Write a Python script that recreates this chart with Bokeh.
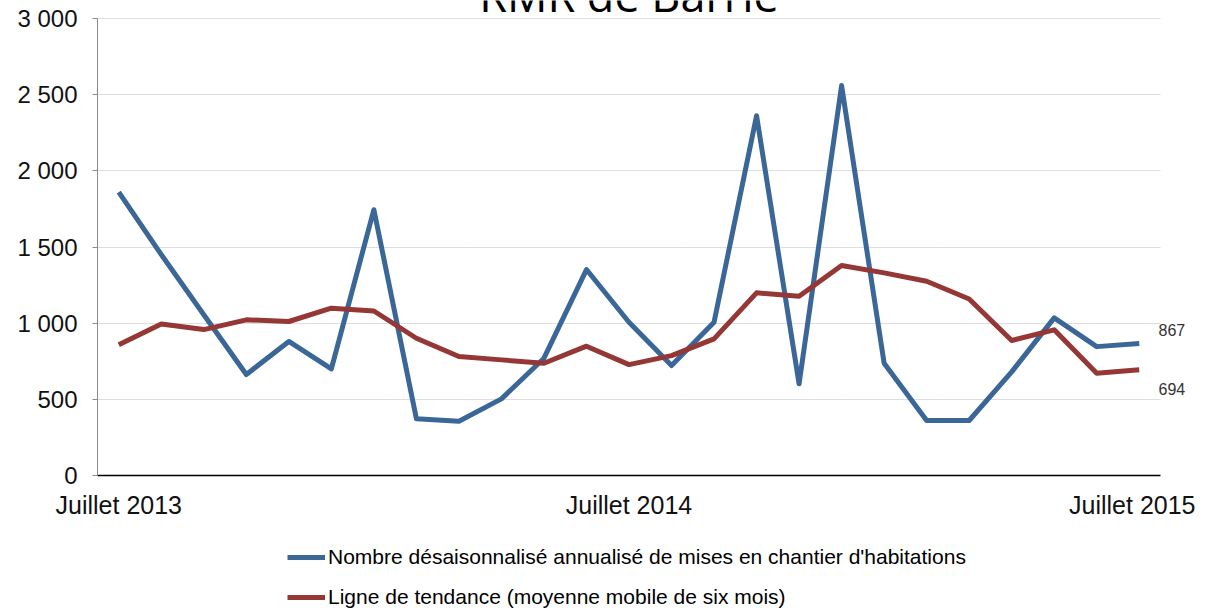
from bokeh.plotting import figure
from bokeh.layouts import column
from bokeh.models import Range1d, FixedTicker, Legend, LegendItem, Label, LinearAxis
from bokeh.models import ColumnDataSource
from bokeh.embed import file_html
from bokeh.resources import INLINE

months = ["Juillet 2013", "Août 2013", "Septembre 2013", "Octobre 2013", "Novembre 2013",
          "Décembre 2013", "Janvier 2014", "Février 2014", "Mars 2014", "Avril 2014",
          "Mai 2014", "Juin 2014", "Juillet 2014", "Août 2014", "Septembre 2014",
          "Octobre 2014", "Novembre 2014", "Décembre 2014", "Janvier 2015", "Février 2015",
          "Mars 2015", "Avril 2015", "Mai 2015", "Juin 2015", "Juillet 2015"]
starts = [1860, 1450, 1055, 663, 880, 700, 1745, 372, 356, 503, 770, 1352, 1006,
          722, 1006, 2362, 602, 2560, 737, 361, 361, 680, 1035, 846, 867]
trend = [859, 995, 958, 1022, 1011, 1098, 1080, 901, 781, 759, 737, 849, 728,
         787, 897, 1199, 1177, 1378, 1330, 1275, 1159, 886, 956, 671, 694]
x_tick_months = ["Juillet 2013", "Juillet 2014", "Juillet 2015"]
y_ticks = [0, 500, 1000, 1500, 2000, 2500, 3000]
y_tick_labels = ["0", "500", "1 000", "1 500", "2 000", "2 500", "3 000"]
title_text = "RMR de Barrie"
series_names = ["Nombre désaisonnalisé annualisé de mises en chantier d'habitations",
                "Ligne de tendance (moyenne mobile de six mois)"]

BLUE = "#3A6797"
RED = "#953735"
FONT = "Liberation Sans"

# geometry (px)
W = 1195
MAIN_H = 530
LEG_H = 83
LEFT, RIGHT, BOTTOM = 97, 35, 55
FRAME_H = MAIN_H - BOTTOM          # frame reaches the top of the canvas (title lives inside it)
PLOT_TOP_PAD = 18                  # gap between canvas top and the 3 000 line
y_max = max(y_ticks)
y_end = y_max * FRAME_H / (FRAME_H - PLOT_TOP_PAD)
upp = y_end / FRAME_H              # data units per pixel

x = list(range(len(months)))
src = ColumnDataSource(dict(x=x, starts=starts, trend=trend, month=months))

p = figure(width=W, height=MAIN_H, output_backend="svg", toolbar_location=None,
           x_range=Range1d(-0.5, len(months) - 0.5), y_range=Range1d(0, y_end),
           min_border_left=LEFT, min_border_right=RIGHT, min_border_top=0,
           min_border_bottom=BOTTOM)
p.outline_line_color = None
p.background_fill_color = "white"
p.border_fill_color = "white"

r1 = p.line("x", "starts", source=src, line_color=BLUE, line_width=5, line_join="round")
r2 = p.line("x", "trend", source=src, line_color=RED, line_width=5, line_join="round")

# x axis
p.xaxis.ticker = FixedTicker(ticks=[months.index(m) for m in x_tick_months])
p.xaxis.major_label_overrides = {months.index(m): m for m in x_tick_months}
p.xaxis.axis_line_color = "black"
p.xaxis.axis_line_width = 1.5
p.xaxis.major_tick_line_color = None
p.xaxis.minor_tick_line_color = None
p.xaxis.major_label_text_font = FONT
p.xaxis.major_label_text_font_size = "25px"
p.xaxis.major_label_text_color = "#111111"
p.xaxis.major_label_standoff = 9
p.xgrid.grid_line_color = None

# y axis
p.yaxis.ticker = FixedTicker(ticks=y_ticks)
p.yaxis.bounds = (0, y_max)
p.yaxis.major_label_overrides = dict(zip(y_ticks, y_tick_labels))
p.yaxis.axis_line_color = "#8c8c8c"
p.yaxis.axis_line_width = 1
p.yaxis.major_tick_line_color = "#8c8c8c"
p.yaxis.major_tick_in = 0
p.yaxis.major_tick_out = 5
p.yaxis.minor_tick_line_color = None
p.yaxis.major_label_text_font = FONT
p.yaxis.major_label_text_font_size = "24px"
p.yaxis.major_label_text_color = "#111111"
p.yaxis.major_label_standoff = 15
p.ygrid.ticker = FixedTicker(ticks=y_ticks[1:])
p.ygrid.grid_line_color = "#bdbdbd"
p.ygrid.grid_line_dash = "1 1"
p.ygrid.grid_line_width = 1

# end-value labels, drawn as a tick-less right axis (outside the frame)
lbl_ticks = [starts[-1] + round(13 * upp), trend[-1] - round(19 * upp)]
end_axis = LinearAxis(ticker=FixedTicker(ticks=lbl_ticks),
                      major_label_overrides={lbl_ticks[0]: str(starts[-1]),
                                             lbl_ticks[1]: str(trend[-1])},
                      axis_line_color=None, major_tick_line_color=None,
                      minor_tick_line_color=None, major_label_standoff=-8,
                      major_label_text_font=FONT, major_label_text_font_size="16px",
                      major_label_text_color="#333333")
p.add_layout(end_axis, "right")

# title, cut at the top edge as in the reference
title = Label(x=months.index("Juillet 2014"), y=FRAME_H + 6, x_units="data", y_units="screen",
              text=title_text, text_font="Open Sans", text_font_size="45px",
              text_color="black", text_align="center", text_baseline="alphabetic")
p.add_layout(title)

# legend strip below the chart (its lines lie outside this strip's ranges, only the key shows)
p2 = figure(width=W, height=LEG_H, output_backend="svg", toolbar_location=None,
            x_axis_type=None, y_axis_type=None,
            x_range=Range1d(0, 1), y_range=Range1d(0, 1),
            min_border_left=0, min_border_right=0, min_border_top=0, min_border_bottom=0)
p2.grid.visible = False
p2.outline_line_color = None
p2.border_fill_color = "white"
p2.background_fill_color = "white"
l1 = p2.line("x", "starts", source=src, line_color=BLUE, line_width=5)
l2 = p2.line("x", "trend", source=src, line_color=RED, line_width=5)
legend = Legend(items=[LegendItem(label=series_names[0], renderers=[l1]),
                       LegendItem(label=series_names[1], renderers=[l2])],
                location=(190, 1), orientation="vertical",
                glyph_width=38, glyph_height=30, label_height=30, spacing=10,
                label_standoff=3, padding=0, margin=0,
                label_text_font=FONT, label_text_font_size="21px",
                label_text_color="black",
                border_line_color=None, background_fill_alpha=0)
p2.add_layout(legend, "center")

layout = column(p, p2, spacing=0)
open("out.html", "w").write(file_html(layout, INLINE))
